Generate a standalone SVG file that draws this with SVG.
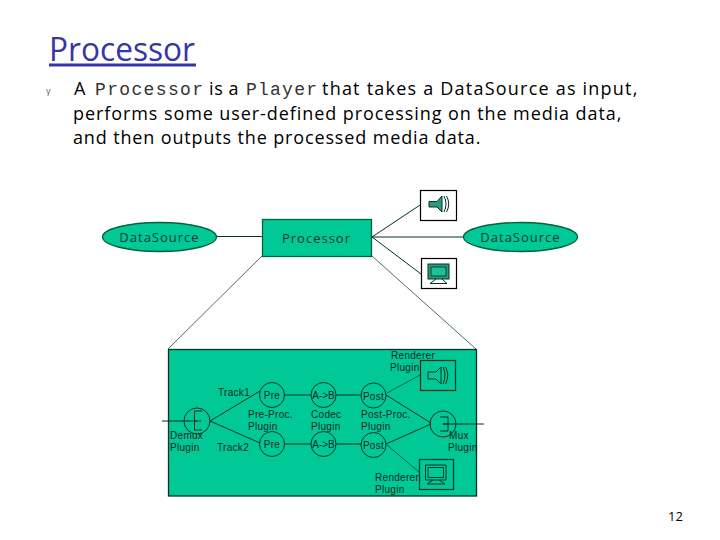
<svg xmlns="http://www.w3.org/2000/svg" width="720" height="540" viewBox="0 0 720 540">
<style>
text{font-family:"Open Sans","Liberation Sans",sans-serif;fill:#000}
.b{font-size:18px;letter-spacing:.6px}
.m{font-family:"Liberation Mono",monospace;font-size:18px;fill:#333}
.d{font-size:13px;fill:#0b3b30;letter-spacing:1px}
.s{font-family:"Liberation Sans",sans-serif;font-size:10px;fill:#06281f;letter-spacing:.3px}
.f{fill:#00c896;stroke:#063;stroke-width:1.3}
.l{fill:none;stroke:#032;stroke-width:1}
.t{fill:none;stroke:#032;stroke-width:.7}
.box{fill:#fff;stroke:#000;stroke-width:1.2}
.ibox{fill:none;stroke:#032;stroke-width:1.2}
.ic{fill:#2a9a80;stroke:#032;stroke-width:1}
</style>
<rect width="720" height="540" fill="#fff"/>
<g id="title">
<text x="49" y="61" textLength="146" lengthAdjust="spacingAndGlyphs" style="font-size:32px;fill:#3535a8">Processor</text>
<rect x="49" y="63.500" width="147" height="3" fill="#3535a8"/>
</g>
<g id="body">
<text x="46" y="94" style="font-size:9px;fill:#555">γ</text>
<text class="b" x="74" y="95">A</text>
<text class="m" x="95" y="95" textLength="108" lengthAdjust="spacing">Processor</text>
<text class="b" x="209" y="95">is a</text>
<text class="m" x="246" y="95" textLength="71" lengthAdjust="spacing">Player</text>
<text class="b" x="322" y="95" textLength="316" lengthAdjust="spacing">that takes a DataSource as input,</text>
<text class="b" x="73" y="120" textLength="549" lengthAdjust="spacing">performs some user-defined processing on the media data,</text>
<text class="b" x="73" y="144" textLength="408" lengthAdjust="spacing">and then outputs the processed media data.</text>
</g>
<g id="pipeline">
<rect x="168.500" y="349.500" width="308" height="146.500" fill="#00c896" stroke="#032" stroke-width="1.3"/>
</g>
<g id="connectors">
<path class="l" d="M217 236.500H262M372 237L420 205M372 237H463M372 237L421 274"/>
<path class="t" d="M262 256L168 349M372 256L476 349"/>
<path class="l" d="M162 421H197M210 421L260 391M210 421L260 443M285 395H311M285 444H311M336 395H362M336 444H362M386 395L431 423M386 444L431 424M443 424H484"/>
<path class="t" d="M387 393L420 375M387 445L419 472"/>
</g>
<g id="source-left">
<ellipse class="f" cx="159.500" cy="237" rx="57" ry="14.500"/>
<text class="d" x="159.500" y="242" text-anchor="middle">DataSource</text>
</g>
<g id="processor">
<rect class="f" x="262.500" y="219.500" width="109" height="37"/>
<text class="d" x="316.500" y="243" text-anchor="middle">Processor</text>
</g>
<g id="source-right">
<ellipse class="f" cx="520.500" cy="237" rx="57" ry="14.500"/>
<text class="d" x="520.500" y="242" text-anchor="middle">DataSource</text>
</g>
<g id="speaker">
<rect class="box" x="420.500" y="190.500" width="36" height="30"/>
<path class="ic" d="M429 201.500H437L442 196V212L437 207H429Z"/>
<path class="l" d="M444 196Q448 204 444 212M446.500 196Q451 204 446.500 212"/>
</g>
<g id="monitor">
<rect class="box" x="421.500" y="258.500" width="35" height="30"/>
<rect x="428" y="264" width="21" height="15" fill="#2a9a80" stroke="#032"/>
<rect x="431" y="267" width="15" height="9" fill="#1fc096" stroke="#032" stroke-width=".8"/>
<path class="l" d="M436 279L430 283.500H447L442 279"/>
</g>
<g id="demux">
<circle class="l" cx="197" cy="421" r="13"/>
<path class="l" d="M202 411H194.500V430H202M194.500 421H201"/>
<text class="s" x="170" y="439">Demux</text>
<text class="s" x="170" y="451">Plugin</text>
</g>
<g id="track-labels">
<text class="s" x="218" y="396">Track1</text>
<text class="s" x="217" y="451">Track2</text>
</g>
<g id="pre-1"><circle class="l" cx="272" cy="395" r="12.500"/><text class="s" x="272" y="398.500" text-anchor="middle">Pre</text></g>
<g id="pre-2"><circle class="l" cx="272" cy="444" r="12.500"/><text class="s" x="272" y="447.500" text-anchor="middle">Pre</text></g>
<g id="pre-label">
<text class="s" x="248" y="418">Pre-Proc.</text>
<text class="s" x="248" y="430">Plugin</text>
</g>
<g id="codec-1"><circle class="l" cx="323.500" cy="395" r="12.500"/><text class="s" x="323.500" y="398.500" text-anchor="middle" style="letter-spacing:0">A-&gt;B</text></g>
<g id="codec-2"><circle class="l" cx="323.500" cy="444" r="12.500"/><text class="s" x="323.500" y="447.500" text-anchor="middle" style="letter-spacing:0">A-&gt;B</text></g>
<g id="codec-label">
<text class="s" x="311" y="418">Codec</text>
<text class="s" x="311" y="430">Plugin</text>
</g>
<g id="post-1"><circle class="l" cx="373.500" cy="395.500" r="12.500"/><text class="s" x="373.500" y="399.500" text-anchor="middle">Post</text></g>
<g id="post-2"><circle class="l" cx="373.500" cy="445" r="12.500"/><text class="s" x="373.500" y="449" text-anchor="middle">Post</text></g>
<g id="post-label">
<text class="s" x="361" y="418">Post-Proc.</text>
<text class="s" x="361" y="430">Plugin</text>
</g>
<g id="mux">
<circle class="l" cx="443" cy="424" r="13"/>
<path class="l" d="M440 417H448V431H440M448 424H443"/>
<text class="s" x="449" y="439">Mux</text>
<text class="s" x="448" y="451">Plugin</text>
</g>
<g id="renderer-audio">
<text class="s" x="391" y="359">Renderer</text>
<text class="s" x="390" y="371">Plugin</text>
<rect class="ibox" x="420.500" y="360.500" width="35" height="30"/>
<path class="l" d="M428 372H436L441 367V384L436 379H428ZM443 367Q447 375 443 384M445.500 367Q450 375 445.500 384"/>
</g>
<g id="renderer-video">
<text class="s" x="375" y="481">Renderer</text>
<text class="s" x="375" y="493">Plugin</text>
<rect class="ibox" x="419.500" y="459.500" width="34" height="30"/>
<path class="l" d="M425.500 465H446V480H425.500ZM428 467.500H443.500V477.500H428ZM433 480L427 484H445L439 480"/>
</g>
<g id="page"><text x="668" y="521" style="font-size:13px">12</text></g>
</svg>
